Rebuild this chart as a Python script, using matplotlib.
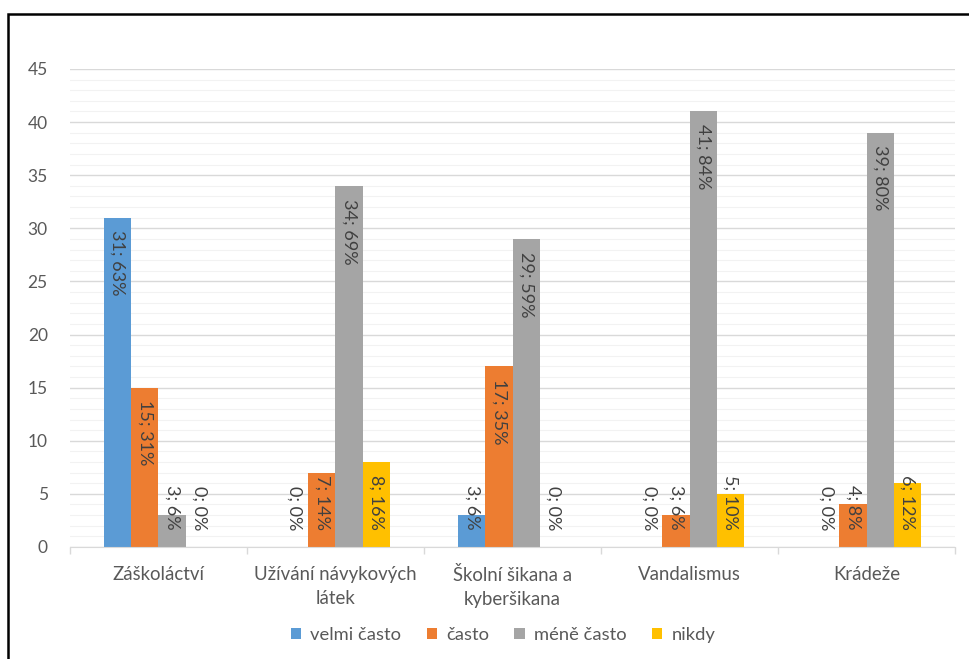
import numpy as np
import matplotlib
matplotlib.use("Agg")
import matplotlib.pyplot as plt
from matplotlib.patches import Rectangle

plt.rcParams['font.family'] = ['Lato', 'DejaVu Sans']

# Data
categories = ["Záškoláctví", "Užívání návykových\nlátek", "Školní šikana a\nkyberšikana",
              "Vandalismus", "Krádeže"]
series_names = ["velmi často", "často", "méně často", "nikdy"]
velmi_casto = [31, 0, 3, 0, 0]
casto = [15, 7, 17, 3, 4]
mene_casto = [3, 34, 29, 41, 39]
nikdy = [0, 8, 0, 5, 6]
velmi_casto_pct = [63, 0, 6, 0, 0]
casto_pct = [31, 14, 35, 6, 8]
mene_casto_pct = [6, 69, 59, 84, 80]
nikdy_pct = [0, 16, 0, 10, 12]

values = [velmi_casto, casto, mene_casto, nikdy]
percents = [velmi_casto_pct, casto_pct, mene_casto_pct, nikdy_pct]
colors = ["#5B9BD5", "#ED7D31", "#A5A5A5", "#FFC000"]

fig = plt.figure(figsize=(9.69, 6.59), dpi=100)
ax = fig.add_axes([0.0722, 0.170, 0.9134, 0.7253])

x = np.arange(len(categories))
bar_w = 0.153
label_len = 6.5  # priblizna delka popisku v jednotkach osy y

for i, (vals, pcts, col, name) in enumerate(zip(values, percents, colors, series_names)):
    pos = x + (i - 1.5) * bar_w
    ax.bar(pos, vals, width=bar_w, color=col, label=name, zorder=3)
    for px, v, p in zip(pos, vals, pcts):
        txt = "%d; %d%%" % (v, p)
        if v - 1.2 - label_len >= 1.6:
            ax.text(px, v - 1.2, txt, rotation=270, ha='center', va='top',
                    fontsize=13, color='#404040', zorder=4)
        else:
            ax.text(px, 1.6, txt, rotation=270, ha='center', va='bottom',
                    fontsize=13, color='#404040', zorder=4)

ax.set_xlim(-0.5, len(categories) - 0.5)
ax.set_ylim(0, 45)
ax.set_yticks(np.arange(0, 46, 5))
ax.set_yticks(np.arange(0, 46, 1), minor=True)
ax.grid(axis='y', which='major', color='#D9D9D9', linewidth=1.0, zorder=0)
ax.grid(axis='y', which='minor', color='#F2F2F2', linewidth=0.8, zorder=0)

ax.set_xticks(x)
ax.set_xticklabels(categories, fontsize=13.4, color='#595959', linespacing=1.45)
for lbl in ax.get_xticklabels():
    lbl.set_multialignment('center')
ax.set_xticks(np.arange(-0.5, len(categories), 1), minor=True)
ax.tick_params(axis='x', which='major', length=0, pad=14)
ax.tick_params(axis='x', which='minor', length=5, color='#D9D9D9', width=1)
ax.tick_params(axis='y', which='both', length=0, labelsize=12.5, labelcolor='#595959', pad=16)

for s in ['top', 'right', 'left']:
    ax.spines[s].set_visible(False)
ax.spines['bottom'].set_color('#D9D9D9')
ax.spines['bottom'].set_zorder(3.5)

ax.legend(loc='center', bbox_to_anchor=(0.519, 0.036), bbox_transform=fig.transFigure,
          ncol=4, frameon=False, fontsize=13.2, handlelength=0.55, handleheight=0.55,
          columnspacing=1.4, handletextpad=0.5, labelcolor='#595959')

fig.patches.append(Rectangle((8 / 969, -0.05), 1.1, 1 - 14 / 659 + 0.05,
                             transform=fig.transFigure, fill=False,
                             edgecolor='black', linewidth=1.8))

fig.savefig("out.png", dpi=100)
